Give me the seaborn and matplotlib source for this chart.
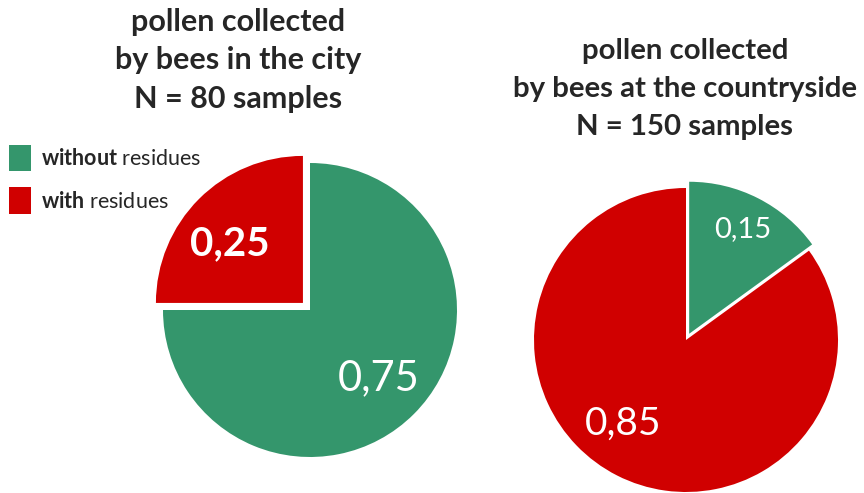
import matplotlib
matplotlib.use("Agg")
import matplotlib.pyplot as plt
import seaborn as sns
import numpy as np

# ---- data ----
categories = ["without residues", "with residues"]
city_values = [0.75, 0.25]
country_values = [0.15, 0.85]
city_title = "pollen collected\nby bees in the city\nN = 80 samples"
country_title = "pollen collected\nby bees at the countryside\nN = 150 samples"
legend_labels = [r"$\bf{without}$ residues", r"$\bf{with}$ residues"]

GREEN = "#34966C"
RED = "#D00000"

sns.set_theme(style="white")
plt.rcParams["font.family"] = ["Lato", "DejaVu Sans"]
plt.rcParams["mathtext.fontset"] = "custom"
plt.rcParams["mathtext.rm"] = "Lato"
plt.rcParams["mathtext.bf"] = "Lato:bold"

W, H = 864, 493
fig = plt.figure(figsize=(W / 100, H / 100), dpi=100)
ax = fig.add_axes([0, 0, 1, 1])

def fmt(v):
    return f"{v:.2f}".replace(".", ",")

def draw_pie(values, center, radius, explode, label_dist, label_rot, label_sizes, label_weights):
    wedges, _ = ax.pie(values, colors=[GREEN, RED], startangle=90, counterclock=False,
                       center=center, radius=radius, explode=explode,
                       wedgeprops=dict(linewidth=0), frame=True)
    for w, v, d, rot, s, wt in zip(wedges, values, label_dist, label_rot, label_sizes, label_weights):
        ang = np.deg2rad((w.theta1 + w.theta2) / 2 + rot)
        cx, cy = w.center
        ax.text(cx + d * w.r * np.cos(ang), cy + d * w.r * np.sin(ang), fmt(v),
                ha="center", va="center", color="white", fontsize=s, fontweight=wt)
    return wedges

# explode offsets are in data (pixel) units here
wl = draw_pie(city_values, (310, H - 310), 147, [0, 10],
              [0.66, 0.64], [0, 6], [30, 29], ["normal", "bold"])
draw_pie(country_values, (686, H - 340), 152, [7, 0],
         [0.77, 0.69], [0, -10], [21, 28], ["normal", "normal"])

ax.set_xlim(0, W)
ax.set_ylim(0, H)
ax.set_aspect("equal")
ax.axis("off")

fig.text(238 / W, 1 - 8 / H, city_title, ha="center", va="top", fontsize=22,
         fontweight="bold", linespacing=1.45)
fig.text(685 / W, 1 - 38 / H, country_title, ha="center", va="top", fontsize=21.2,
         fontweight="bold", linespacing=1.58)

leg = ax.legend(wl, legend_labels, loc="upper left",
                bbox_to_anchor=(9 / W, 1 - 145 / H), bbox_transform=fig.transFigure,
                frameon=False, fontsize=15.5, handlelength=1.02, handleheight=1.5,
                labelspacing=0.75, handletextpad=0.47, borderpad=0, borderaxespad=0)

fig.savefig("out.png", dpi=100)
